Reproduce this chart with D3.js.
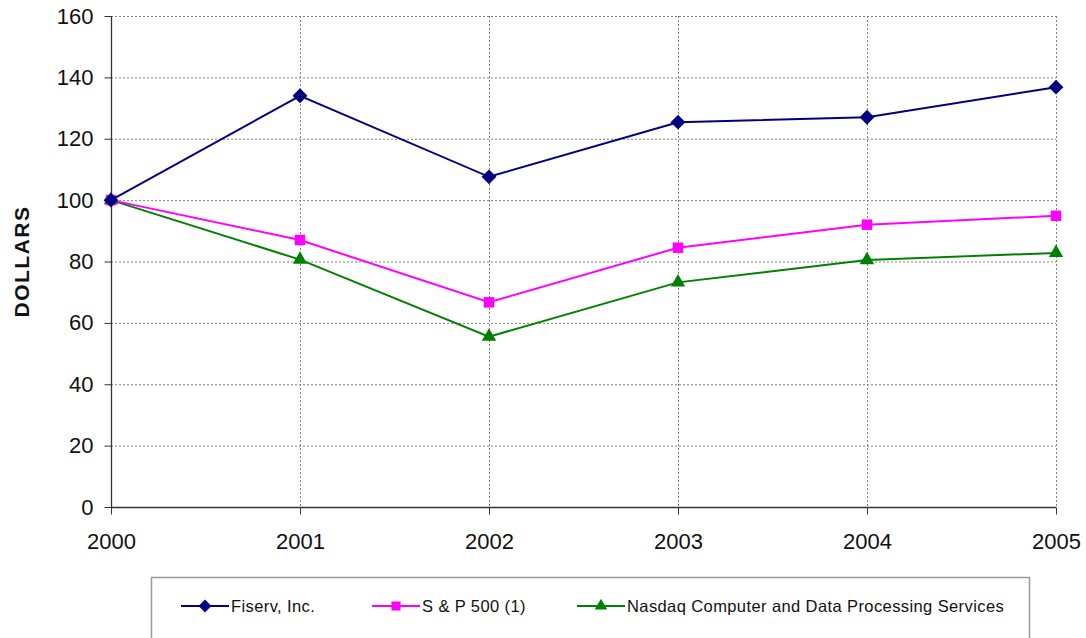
<!DOCTYPE html>
<html lang="en">
<head>
<meta charset="UTF-8">
<script src="https://d3js.org/d3.v7.min.js"></script>
<style>
  body { margin: 0; background: #fff; }
  svg { display: block; font-family: "Liberation Sans", Arial, sans-serif; }
</style>
</head>
<body>
<div id="plot"></div>
<script>
// chart values
var years = [2000, 2001, 2002, 2003, 2004, 2005];
var fiserv = [100, 134, 107.6, 125.4, 127, 136.8];
var sp500 = [100, 87, 66.7, 84.5, 92, 94.9];
var nasdaq = [100, 80.6, 55.5, 73.2, 80.5, 82.8];
var yTicks = [0, 20, 40, 60, 80, 100, 120, 140, 160];
var seriesNames = ["Fiserv, Inc.", "S & P 500 (1)", "Nasdaq Computer and Data Processing Services"];

var width = 1086, height = 638;
var margin = {left: 111, right: 1056, top: 16, bottom: 507};

var svg = d3.select("#plot").append("svg")
    .attr("width", width)
    .attr("height", height);

var x = d3.scaleLinear().domain([2000, 2005]).range([margin.left, margin.right]);
var y = d3.scaleLinear().domain([0, 160]).range([margin.bottom, margin.top]);

// diamond drawn as a square turned 45 degrees (d3's diamond is too narrow)
var wideDiamond = {
  draw: function(context, size) {
    var r = Math.sqrt(size / 2);
    context.moveTo(0, -r);
    context.lineTo(r, 0);
    context.lineTo(0, r);
    context.lineTo(-r, 0);
    context.closePath();
  }
};

// grid lines
svg.append("g")
    .attr("stroke", "#808080")
    .attr("stroke-width", 1)
    .attr("stroke-dasharray", "2,2")
  .selectAll("line")
  .data(yTicks.filter(d => d > 0))
  .join("line")
    .attr("x1", margin.left).attr("x2", margin.right)
    .attr("y1", d => y(d) + 0.5).attr("y2", d => y(d) + 0.5);

svg.append("g")
    .attr("stroke", "#808080")
    .attr("stroke-width", 1)
    .attr("stroke-dasharray", "2,2")
  .selectAll("line")
  .data(years.slice(1))
  .join("line")
    .attr("x1", d => x(d) + 0.5).attr("x2", d => x(d) + 0.5)
    .attr("y1", margin.top).attr("y2", margin.bottom);

// axes
var yAxis = svg.append("g")
    .attr("transform", `translate(${margin.left + 0.5},0)`)
    .call(d3.axisLeft(y).tickValues(yTicks).tickSize(7).tickPadding(11).tickFormat(d3.format("d")));
var xAxis = svg.append("g")
    .attr("transform", `translate(0,${margin.bottom + 0.5})`)
    .call(d3.axisBottom(x).tickValues(years).tickSize(7).tickPadding(19).tickFormat(d3.format("d")));

[yAxis, xAxis].forEach(function(a) {
  a.select(".domain").attr("stroke", "#333").attr("stroke-width", 1.3);
  a.selectAll(".tick line").attr("stroke", "#333");
  a.selectAll("text").attr("font-size", 22).attr("fill", "#111")
    .attr("font-family", "Liberation Sans, Arial, sans-serif");
});
xAxis.select(".domain").attr("d", `M${margin.left},0H${margin.right}`);
yAxis.select(".domain").attr("d", `M0,${margin.top}V${margin.bottom}`);

svg.append("text")
    .attr("transform", `translate(29,${(margin.top + margin.bottom) / 2}) rotate(-90)`)
    .attr("text-anchor", "middle")
    .attr("font-size", 21)
    .attr("letter-spacing", 1.5)
    .attr("font-weight", "bold")
    .attr("fill", "#111")
    .text("DOLLARS");

var series = [
  {name: seriesNames[0], values: fiserv, color: "#000080", shape: wideDiamond, size: 110},
  {name: seriesNames[1], values: sp500, color: "#ff00ff", shape: d3.symbolSquare, size: 110},
  {name: seriesNames[2], values: nasdaq, color: "#008000", shape: d3.symbolTriangle, size: 90}
];

var line = d3.line().x((d, i) => x(years[i])).y(d => y(d));

// draw in reverse so Fiserv sits on top
series.slice().reverse().forEach(function(s) {
  svg.append("path")
      .datum(s.values)
      .attr("fill", "none")
      .attr("stroke", s.color)
      .attr("stroke-width", 2)
      .attr("d", line);
  svg.append("g").selectAll("path")
    .data(s.values)
    .join("path")
      .attr("transform", (d, i) => `translate(${x(years[i])},${y(d)})`)
      .attr("d", d3.symbol().type(s.shape).size(s.size))
      .attr("fill", s.color);
});

// legend
var legend = svg.append("g");
legend.append("rect")
    .attr("x", 151.5).attr("y", 577.5)
    .attr("width", 878).attr("height", 70)
    .attr("fill", "#fff")
    .attr("stroke", "#999")
    .attr("stroke-width", 1.5);

var legendX = [181, 372, 577];
series.forEach(function(s, i) {
  var g = legend.append("g").attr("transform", `translate(${legendX[i]},606)`);
  g.append("line").attr("x1", 0).attr("x2", 48).attr("stroke", s.color).attr("stroke-width", 2);
  g.append("path")
      .attr("transform", "translate(24,0)")
      .attr("d", d3.symbol().type(s.shape).size(s.size * 0.75))
      .attr("fill", s.color);
  g.append("text")
      .attr("x", 50).attr("y", 6)
      .attr("font-size", 16.5)
      .attr("letter-spacing", 0.4)
      .attr("fill", "#111")
      .text(s.name);
});
</script>
</body>
</html>
